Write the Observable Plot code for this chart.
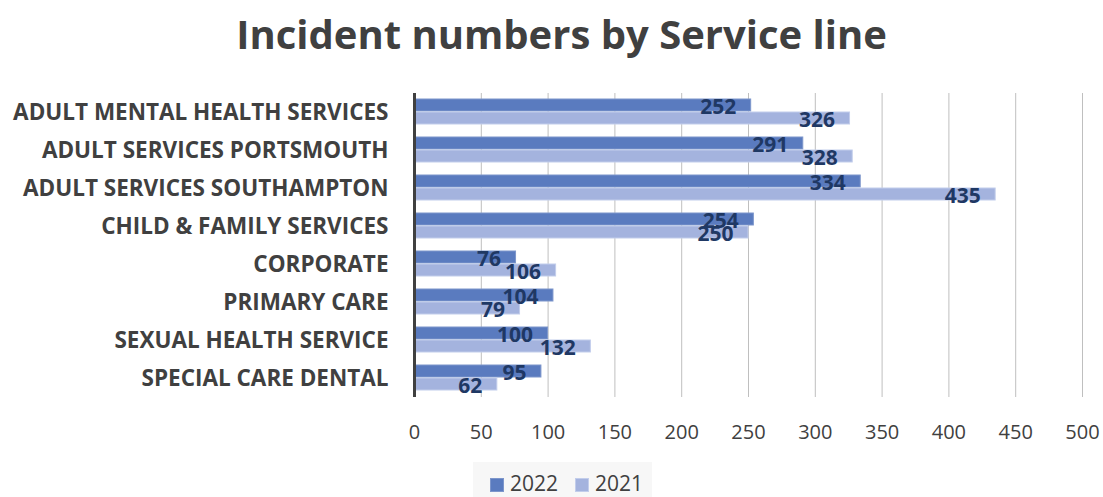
<!DOCTYPE html>
<html><head><meta charset="utf-8">
<script src="https://cdn.jsdelivr.net/npm/d3@7"></script>
<script src="https://cdn.jsdelivr.net/npm/@observablehq/plot@0.6"></script>
<style>
body{margin:0;background:#fff;}
#wrap{position:relative;width:1103px;height:497px;overflow:hidden;font-family:"Open Sans",sans-serif;color:#404040;}
#title{position:absolute;top:9px;left:10px;width:1103px;text-align:center;font-size:40px;font-weight:bold;line-height:50px;}
#chart{position:absolute;top:80px;left:0;}
#legend{position:absolute;left:473px;top:462px;width:179px;height:35px;background:#f7f7f7;}
#legend .sw{position:absolute;top:16px;width:12px;height:12px;}
#legend .tx{position:absolute;top:6px;font-size:21px;line-height:30px;}
</style></head>
<body><div id="wrap">
<div id="title">Incident numbers by Service line</div>
<div id="chart"></div>
<div id="legend"></div>
</div>
<script>
const categories = ["ADULT MENTAL HEALTH SERVICES","ADULT SERVICES PORTSMOUTH","ADULT SERVICES SOUTHAMPTON","CHILD & FAMILY SERVICES","CORPORATE","PRIMARY CARE","SEXUAL HEALTH SERVICE","SPECIAL CARE DENTAL"];
const years = ["2022","2021"];
const values2022 = [252,291,334,254,76,104,100,95];
const values2021 = [326,328,435,250,106,79,132,62];
const xTicks = [0,50,100,150,200,250,300,350,400,450,500];
const colors = {"2022":"#5a7bbf","2021":"#a4b3de"};
const strokes = {"2022":"#7d96cb","2021":"#c2cdeb"};

const data = [];
categories.forEach((c,i)=>{
  data.push({cat:c, year:"2022", value:values2022[i]});
  data.push({cat:c, year:"2021", value:values2021[i]});
});

const chart = Plot.plot({
  width:1103, height:380,
  marginTop:10, marginBottom:60, marginLeft:414, marginRight:21,
  style:{fontFamily:"Open Sans, sans-serif", background:"transparent"},
  x:{domain:[0,500], axis:null},
  y:{domain:years, axis:null, paddingInner:0.07, paddingOuter:0.42},
  fy:{domain:categories, padding:0, axis:null},
  marks:[
    Plot.gridX(xTicks.filter(d=>d>0), {stroke:"#bfbfbf", strokeOpacity:1, strokeWidth:1}),
    Plot.barX(data, {x:"value", y:"year", fy:"cat", fill:d=>colors[d.year], stroke:d=>strokes[d.year], strokeWidth:1}),
    Plot.ruleX([0], {stroke:"#404040", strokeWidth:3}),
    Plot.text(data, {x:"value", y:"year", fy:"cat", text:d=>String(d.value), textAnchor:"end", dx:-15, dy:2, fontSize:21, fontWeight:"bold", fill:"#1f3864"}),
    Plot.axisX({ticks:xTicks, tickSize:0, tickPadding:27, fontSize:20, fill:"#404040", label:null, tickFormat:d=>String(d)}),
    Plot.axisFy({anchor:"left", tickSize:0, tickPadding:26, fontSize:22.5, fontWeight:"bold", fill:"#404040", label:null})
  ]
});
document.getElementById("chart").appendChild(chart);

const leg = document.getElementById("legend");
const legPos = {"2022":[17,37],"2021":[102,122]};
years.forEach(y=>{
  const sw = document.createElement("span"); sw.className="sw"; sw.style.left=legPos[y][0]+"px";
  sw.style.background=colors[y]; sw.style.border="1px solid "+strokes[y];
  const t = document.createElement("span"); t.className="tx"; t.style.left=legPos[y][1]+"px"; t.textContent=y;
  leg.appendChild(sw); leg.appendChild(t);
});
</script>
</body></html>
